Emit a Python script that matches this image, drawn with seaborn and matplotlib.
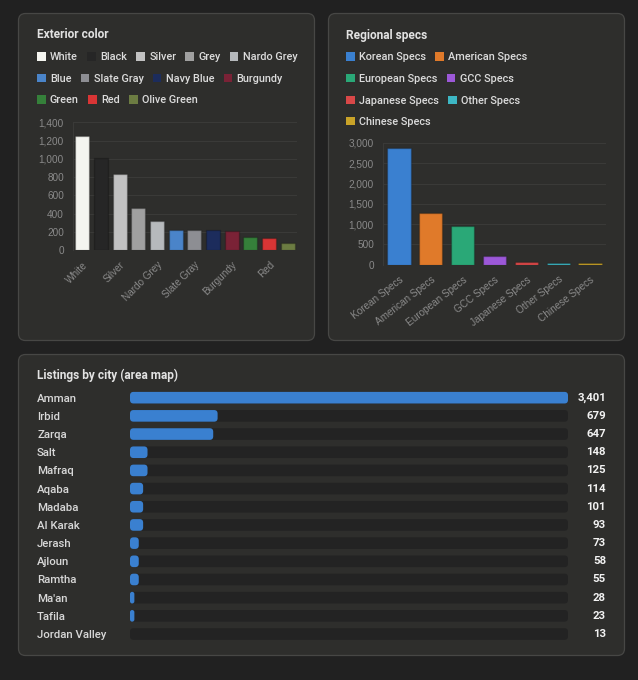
import matplotlib
matplotlib.use('Agg')
import matplotlib.pyplot as plt
import seaborn as sns
import pandas as pd
from matplotlib.patches import FancyBboxPatch, Patch
from matplotlib.transforms import blended_transform_factory

# ---------------- data ----------------
color_names = ['White', 'Black', 'Silver', 'Grey', 'Nardo Grey', 'Blue', 'Slate Gray',
               'Navy Blue', 'Burgundy', 'Green', 'Red', 'Olive Green']
color_counts = [1245, 1010, 838, 462, 320, 224, 222, 215, 212, 142, 131, 80]
color_swatches = ['#f4f5f0', '#262626', '#c2c2c2', '#a0a0a0', '#b6b9bc', '#4a84c9',
                  '#8d8e93', '#1c2c5c', '#7a2236', '#35803a', '#d93535', '#6c7c42']

spec_names = ['Korean Specs', 'American Specs', 'European Specs', 'GCC Specs',
              'Japanese Specs', 'Other Specs', 'Chinese Specs']
spec_counts = [2870, 1268, 955, 214, 62, 50, 36]
spec_swatches = ['#3a80d0', '#e07a2a', '#2aa877', '#9c58d8', '#d94848', '#3db7c4', '#c9a328']

cities = ['Amman', 'Irbid', 'Zarqa', 'Salt', 'Mafraq', 'Aqaba', 'Madaba', 'Al Karak',
          'Jerash', 'Ajloun', 'Ramtha', "Ma'an", 'Tafila', 'Jordan Valley']
city_counts = [3401, 679, 647, 148, 125, 114, 101, 93, 73, 58, 55, 28, 23, 13]

color_rows = [5, 4, 3]
spec_rows = [2, 2, 2, 1]

# ---------------- style ----------------
W, H = 638, 680
BG = '#212121'
PANEL = '#2e2e2c'
BORDER = '#474745'
GRID = '#3a3a38'
TICK = '#8a8a8a'
TEXT = '#dcdcdc'
TRACK = '#232323'
CITY_BLUE = '#3a80d0'

sns.set_theme(style='dark')
plt.rcParams['font.family'] = ['Roboto', 'DejaVu Sans']
TICKFONT = ['Liberation Sans', 'DejaVu Sans']

fig = plt.figure(figsize=(W / 100, H / 100), dpi=100, facecolor=BG)


def px_axes(x0, y0, x1, y1):
    ax = fig.add_axes([x0 / W, 1 - y1 / H, (x1 - x0) / W, (y1 - y0) / H])
    ax.set_facecolor('none')
    return ax


def panel(x0, y0, x1, y1):
    p = FancyBboxPatch((x0 / 100, (H - y1) / 100), (x1 - x0) / 100, (y1 - y0) / 100,
                       boxstyle='round,pad=0,rounding_size=0.07',
                       transform=fig.dpi_scale_trans, facecolor=PANEL,
                       edgecolor=BORDER, linewidth=0.9, zorder=-5)
    fig.add_artist(p)


panel(18.5, 13.5, 314.5, 340.5)
panel(328.5, 13.5, 624.5, 340.5)
panel(18.5, 354.5, 624.5, 655.5)


def title(x, y, s):
    fig.text(x / W, 1 - y / H, s, fontsize=8.6, weight='bold', color='#e2e2e2',
             va='center', ha='left')


def legend_rows(names, swatches, rows, x, y0, dy):
    i = 0
    for r, n in enumerate(rows):
        handles = [Patch(facecolor=swatches[k], edgecolor='none', label=names[k])
                   for k in range(i, i + n)]
        i += n
        fig.legend(handles=handles, loc='center left',
                   bbox_to_anchor=(x / W, 1 - (y0 + r * dy) / H), ncol=n,
                   frameon=False, handlelength=0.8, handleheight=0.8,
                   handletextpad=0.4, columnspacing=0.85, borderpad=0,
                   borderaxespad=0, labelcolor=TEXT,
                   prop={'family': ['Roboto', 'DejaVu Sans'], 'size': 7.8, 'weight': 'medium'})


def style_vbar(ax, ymax, step):
    ax.set_ylim(0, ymax)
    ticks = list(range(0, ymax + 1, step))
    ax.set_yticks(ticks)
    ax.set_yticklabels([f'{t:,}' for t in ticks], family=TICKFONT, fontsize=7.2, color=TICK)
    ax.grid(axis='y', color=GRID, linewidth=0.8)
    ax.grid(axis='x', visible=False)
    ax.set_axisbelow(True)
    for s in ['top', 'right', 'bottom']:
        ax.spines[s].set_visible(False)
    ax.spines['left'].set_color(GRID)
    ax.spines['left'].set_linewidth(0.8)
    ax.tick_params(axis='both', length=0)
    ax.tick_params(axis='y', pad=6.5)
    ax.set_xlabel('')
    ax.set_ylabel('')


# ---------------- exterior color ----------------
title(37, 35, 'Exterior color')
legend_rows(color_names, color_swatches, color_rows, 37, 57.3, 21.5)

ax1 = px_axes(73, 122.3, 297, 250)
df1 = pd.DataFrame({'color': color_names, 'count': color_counts})
sns.barplot(data=df1, x='color', y='count', hue='color', order=color_names,
            hue_order=color_names, palette=dict(zip(color_names, color_swatches)),
            width=0.75, saturation=1, edgecolor=(0, 0, 0, 0.22), linewidth=1,
            legend=False, ax=ax1)
style_vbar(ax1, 1400, 200)
ax1.set_xlim(-0.5, len(color_names) - 0.5)
shown = list(range(0, len(color_names), 2))
ax1.set_xticks(shown)
ax1.set_xticklabels([color_names[i] for i in shown], rotation=45, ha='right', va='top',
                    rotation_mode='anchor', family=TICKFONT, fontsize=7.2, color=TICK)
ax1.tick_params(axis='x', pad=7)

# ---------------- regional specs ----------------
title(346, 35, 'Regional specs')
legend_rows(spec_names, spec_swatches, spec_rows, 346, 57.3, 21.6)

ax2 = px_axes(383, 143, 606, 264.7)
df2 = pd.DataFrame({'spec': spec_names, 'count': spec_counts})
sns.barplot(data=df2, x='spec', y='count', hue='spec', order=spec_names,
            hue_order=spec_names, palette=dict(zip(spec_names, spec_swatches)),
            width=0.73, saturation=1, edgecolor=(0, 0, 0, 0.22), linewidth=1,
            legend=False, ax=ax2)
style_vbar(ax2, 3000, 500)
ax2.set_xlim(-0.5, len(spec_names) - 0.5)
ax2.set_xticks(range(len(spec_names)))
ax2.set_xticklabels(spec_names, rotation=38, ha='right', va='top',
                    rotation_mode='anchor', family=TICKFONT, fontsize=7.2, color=TICK)
ax2.tick_params(axis='x', pad=7)

# ---------------- listings by city ----------------
title(37, 375.7, 'Listings by city (area map)')
ax3 = px_axes(130, 388.6, 568, 643.1)
top = max(city_counts)
# bar length is the share of the largest city, rounded to whole percent
df3 = pd.DataFrame({'city': cities,
                    'pct': [round(100 * v / top) for v in city_counts],
                    'track': [100] * len(cities)})
sns.barplot(data=df3, x='track', y='city', order=cities, orient='h', color=TRACK,
            saturation=1, width=0.64, linewidth=0, ax=ax3)
sns.barplot(data=df3, x='pct', y='city', order=cities, orient='h', color=CITY_BLUE,
            saturation=1, width=0.64, linewidth=0, ax=ax3)
ax3.set_xlim(0, 100)
ax3.set_ylim(len(cities) - 0.5, -0.5)

# round the bar corners
px_x = 100 / (568 - 130)          # data units per pixel, x
px_y = 1 / ((643.1 - 388.6) / len(cities))  # data units per pixel, y
aspect = px_y / px_x
rad = 3.5 * px_x
for p in list(ax3.patches):
    x, y = p.get_xy()
    w, h = p.get_width(), p.get_height()
    fc = p.get_facecolor()
    p.remove()
    if w <= 0:
        continue
    r = min(rad, w / 2)
    ax3.add_patch(FancyBboxPatch((x, y), w, h, boxstyle=f'round,pad=0,rounding_size={r}',
                                 mutation_aspect=aspect, facecolor=fc, edgecolor='none',
                                 linewidth=0))

for s in ax3.spines.values():
    s.set_visible(False)
ax3.grid(False)
ax3.set_xticks([])
ax3.set_xlabel('')
ax3.set_ylabel('')
ax3.tick_params(axis='y', length=0, pad=(130 - 37) * 0.72)
for lbl in ax3.get_yticklabels():
    lbl.set_horizontalalignment('left')
    lbl.set_fontsize(8.2)
    lbl.set_color('#d8d8d8')
    lbl.set_fontweight('medium')

tr = blended_transform_factory(ax3.transAxes, ax3.transData)
for i, v in enumerate(city_counts):
    ax3.text((606 - 130) / (568 - 130), i, f'{v:,}', transform=tr, ha='right', va='center',
             fontsize=8.2, weight='bold', color='#f2f2f2', clip_on=False)

fig.savefig('out.png', dpi=100, facecolor=BG)
